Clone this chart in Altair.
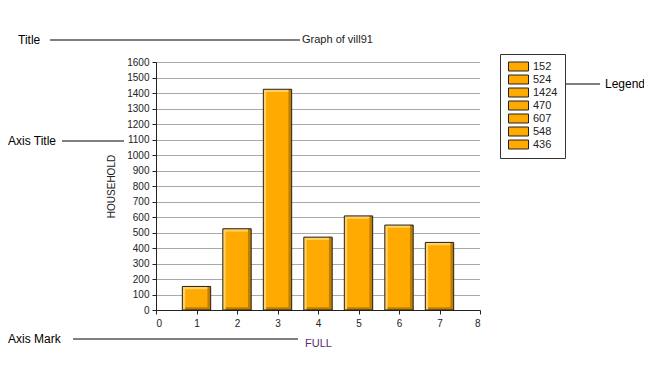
import altair as alt
import pandas as pd

categories = [1, 2, 3, 4, 5, 6, 7]
values = [152, 524, 1424, 470, 607, 548, 436]
labels = [str(v) for v in values]

y_ticks = list(range(0, 1700, 100))
x_ticks = list(range(0, 9))

W, H = 324, 248
HALF = 0.35

df = pd.DataFrame({"cat": categories, "val": values, "label": labels})
df["xs"] = df["cat"] - HALF
df["xe"] = df["cat"] + HALF
df["zero"] = 0

FONT = "Liberation Sans"
ORANGE = "#FFAA00"
LIGHT = "#FFD066"
DARK = "#C07E00"

xscale = alt.Scale(domain=[0, 8], nice=False, zero=False)
yscale = alt.Scale(domain=[0, 1600], nice=False)

xaxis = alt.Axis(values=x_ticks, title="FULL", grid=False, tickSize=4,
                 labelPadding=4, titlePadding=9, titleColor="#5B2C6F",
                 titleFontWeight="normal", titleFontSize=11, format="d",
                 labelOverlap=False)
yaxis = alt.Axis(values=y_ticks, title="HOUSEHOLD", grid=True, gridDash=[1, 1],
                 gridColor="#555", gridWidth=1, tickSize=4, labelPadding=3,
                 titlePadding=10, titleFontWeight="normal", titleFontSize=10,
                 format="d", labelOverlap=False)


def X(field):
    return alt.X(field, scale=xscale, axis=xaxis)


def Y(field):
    return alt.Y(field, scale=yscale, axis=yaxis)


base = alt.Chart(df)

bars = base.mark_bar(stroke=None).encode(
    x=X("xs:Q"), x2="xe:Q",
    y=Y("val:Q"), y2="zero:Q",
    color=alt.Color("label:N",
                    scale=alt.Scale(domain=labels, range=[ORANGE] * len(labels)),
                    legend=alt.Legend(title=None, orient="none", legendX=344, legendY=-8,
                                      symbolType="M-2,-0.9H2V0.9H-2Z", symbolSize=100,
                                      symbolStrokeColor="#222", symbolStrokeWidth=1,
                                      symbolFillColor=ORANGE, symbolOpacity=1,
                                      symbolOffset=6, labelOffset=9,
                                      labelFont=FONT, labelFontSize=11, labelColor="#222",
                                      rowPadding=0,
                                      padding=7, strokeColor="#333", fillColor="white")),
)

left_strip = base.transform_calculate(
    a="datum.cat - 0.35", b="datum.cat - 0.28"
).mark_bar(color=LIGHT).encode(x=X("a:Q"), x2="b:Q", y=Y("val:Q"), y2="zero:Q")

top_strip = base.transform_calculate(
    a="datum.val - 18"
).mark_bar(color=LIGHT).encode(x=X("xs:Q"), x2="xe:Q", y=Y("val:Q"), y2="a:Q")

right_strip = base.transform_calculate(
    a="datum.cat + 0.27", b="datum.cat + 0.35"
).mark_bar(color=DARK).encode(x=X("a:Q"), x2="b:Q", y=Y("val:Q"), y2="zero:Q")

bottom_strip = base.transform_calculate(
    a="datum.cat - 0.28", h="18"
).mark_bar(color=DARK).encode(x=X("a:Q"), x2="xe:Q", y=Y("h:Q"), y2="zero:Q")

outline = base.mark_bar(fillOpacity=0, stroke="#222", strokeWidth=1).encode(
    x=X("xs:Q"), x2="xe:Q", y=Y("val:Q"), y2="zero:Q")

one = alt.Chart(pd.DataFrame({"k": [0]}))


def label(txt, x, y, size=12, align="left", color="#000"):
    return one.mark_text(text=txt, font=FONT, fontSize=size, align=align,
                         baseline="middle", color=color).encode(
        x=alt.value(x), y=alt.value(y))


def line(x1, x2, y):
    return one.mark_rule(color="#000", strokeWidth=1).encode(
        x=alt.value(x1), x2=alt.value(x2), y=alt.value(y))


annotations = [
    label("Title", -138, -22),
    line(-106, 144, -22),
    label("Graph of vill91", 146, -22, size=11, color="#222"),
    label("Axis Title", -148, 79),
    line(-94, -32, 79),
    label("Axis Mark", -148, 277),
    line(-83, 142, 277),
    label("Legend", 449, 22),
    line(404, 444, 22),
]

chart = alt.layer(bars, left_strip, top_strip, right_strip, bottom_strip, outline,
                  *annotations).properties(
    width=W, height=H,
    autosize=alt.AutoSizeParams(type="none"),
    padding={"left": 148, "top": 54, "right": 164, "bottom": 58},
    background="white",
).configure_view(stroke=None).configure_axis(
    labelFont=FONT, titleFont=FONT, labelFontSize=10, labelColor="#222",
    titleColor="#222", domainColor="#222", tickColor="#222",
)

chart.save("out.html", embed_options={"renderer": "svg", "actions": False})
